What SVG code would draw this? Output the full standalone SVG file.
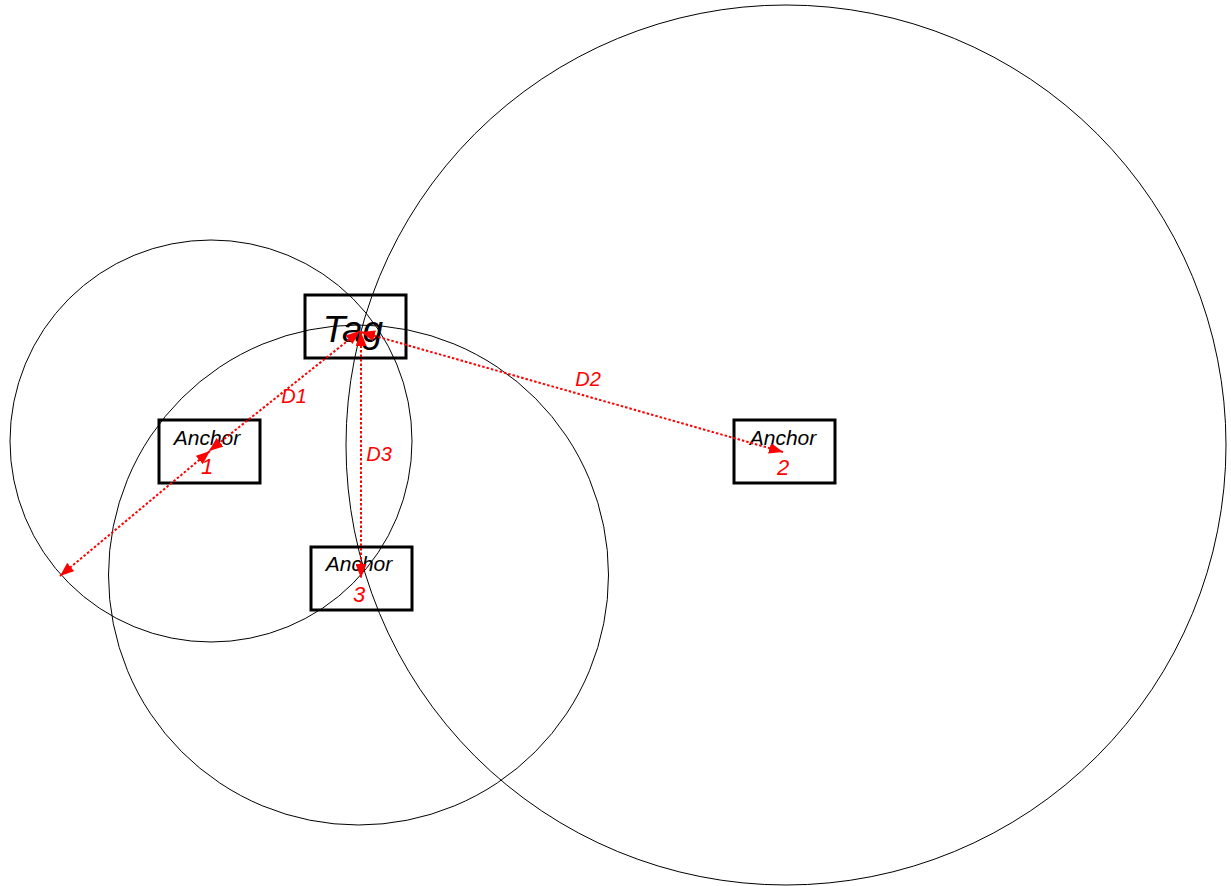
<svg xmlns="http://www.w3.org/2000/svg" width="1231" height="886" viewBox="0 0 1231 886">
<style>
.ring{fill:none;stroke:#000;stroke-width:1}
.box{fill:none;stroke:#000;stroke-width:3}
.lbl{font-family:"Liberation Sans",Arial,sans-serif;font-style:italic;text-anchor:middle}
.blk{fill:#000;font-size:21px}
.red{fill:#FF0000;font-size:22px}
.dist{fill:none;stroke:#FF0000;stroke-width:2;stroke-dasharray:2.5 2}
</style>
<defs>
<marker id="ah" markerUnits="userSpaceOnUse" markerWidth="15" markerHeight="11" refX="14" refY="5.5" orient="auto-start-reverse">
<path d="M0,0 L14,5.5 L0,11 Z" fill="#FF0000"/>
</marker>
</defs>
<g id="circles">
<circle class="ring" cx="211" cy="441" r="201"/>
<circle class="ring" cx="358.5" cy="575" r="250"/>
<circle class="ring" cx="786" cy="445" r="440"/>
</g>
<g id="tag">
<rect class="box" x="305" y="295" width="101" height="63"/>
<text class="lbl blk" x="353" y="342" style="font-size:37px">Tag</text>
</g>
<g id="anchor1">
<rect class="box" x="159" y="420" width="101" height="63"/>
<text class="lbl blk" x="207" y="445">Anchor</text>
<text class="lbl red" x="207" y="474">1</text>
</g>
<g id="anchor2">
<rect class="box" x="734" y="420" width="101" height="63"/>
<text class="lbl blk" x="783" y="445">Anchor</text>
<text class="lbl red" x="783" y="475">2</text>
</g>
<g id="anchor3">
<rect class="box" x="311" y="547" width="101" height="63"/>
<text class="lbl blk" x="359" y="571">Anchor</text>
<text class="lbl red" x="359" y="602">3</text>
</g>
<g id="connectors">
<line class="dist" x1="360" y1="331" x2="209" y2="451" marker-start="url(#ah)" marker-end="url(#ah)"/>
<line class="dist" x1="210" y1="451" x2="60" y2="576" marker-start="url(#ah)" marker-end="url(#ah)"/>
<line class="dist" x1="361" y1="332" x2="783" y2="452" marker-start="url(#ah)" marker-end="url(#ah)"/>
<line class="dist" x1="361" y1="332" x2="361" y2="578" marker-start="url(#ah)" marker-end="url(#ah)"/>
<text class="lbl red" x="294" y="403" style="font-size:20px">D1</text>
<text class="lbl red" x="588" y="386" style="font-size:20px">D2</text>
<text class="lbl red" x="379" y="461" style="font-size:20px">D3</text>
</g>
</svg>
